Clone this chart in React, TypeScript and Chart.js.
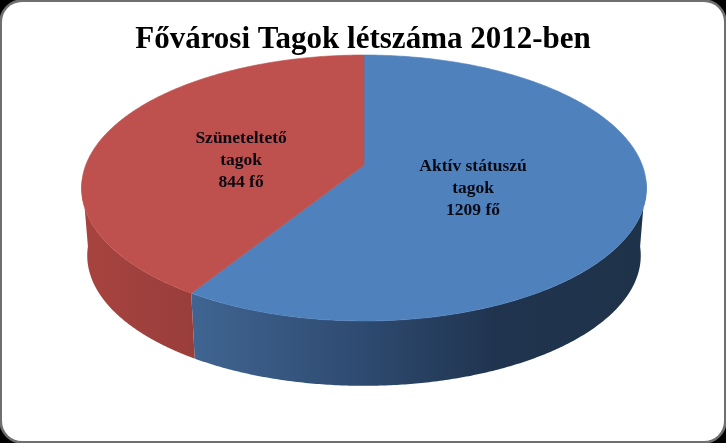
import React, { useEffect, useRef } from "react";
import { Chart, registerables } from "chart.js";

Chart.register(...registerables);

const titleText = "Fővárosi Tagok létszáma 2012-ben";
const categories = ["Aktív státuszú tagok", "Szüneteltető tagok"];
const members = [1209, 844];
const labelLines = [
  ["Aktív státuszú", "tagok", "1209 fő"],
  ["Szüneteltető", "tagok", "844 fő"],
];
const labelRadius = [0.4, 0.47];
const labelShift = [8.5, 12];
const topColors = ["#4F81BD", "#BE504D"];
const wallStops = [
  [[0, "#406592"], [0.385, "#2E4A70"], [0.68, "#20344F"], [1, "#1E3249"]],
  [[0, "#A8433F"], [0.6, "#9E403D"], [1, "#9A3E3B"]],
];

// Perspective view of the pie: unit circle (u, v) to screen
const K = 0.1729;
const CX = 364;
const topFace = { a: 278.2, b: 129, y0: 165 };
const bottomFace = { a: 272.6, b: 126.4, y0: 233 };
// Only the front of the wall shows: between these two clockwise-from-top angles
const WALL_FROM = (96 * Math.PI) / 180;
const WALL_TO = (264 * Math.PI) / 180;
const project = (f: typeof topFace, ang: number, r = 1) => {
  const u = Math.sin(ang) * r;
  const v = -Math.cos(ang) * r;
  const w = 1 - K * v;
  return { x: CX + (f.a * u) / w, y: f.y0 + (f.b * v) / w };
};

const pie3d = {
  id: "pie3d",
  beforeDraw(chart: any) {
    const { ctx, width, height } = chart;
    ctx.save();
    ctx.fillStyle = "#000";
    ctx.fillRect(0, 0, width, height);
    ctx.filter = "blur(0.7px)";
    ctx.beginPath();
    ctx.roundRect(-1, -1, width + 2, height + 2, 24);
    ctx.fillStyle = "#6f6f6f";
    ctx.fill();
    ctx.beginPath();
    ctx.roundRect(2, 2, width - 4, height - 4, 20);
    ctx.fillStyle = "#ffffff";
    ctx.fill();
    ctx.restore();
  },
  beforeDatasetsDraw(chart: any) {
    const { ctx } = chart;
    const arcs = chart.getDatasetMeta(0).data;
    const offset = Math.PI / 2; // Chart.js angle 0 is at 3 o'clock
    const sweep = (fn: (a: number) => void, s: number, e: number) => {
      const n = 240;
      for (let i = 0; i <= n; i++) fn(s + ((e - s) * i) / n);
    };
    ctx.save();
    // side walls first
    arcs.forEach((arc: any, i: number) => {
      const s = Math.max(arc.startAngle + offset, WALL_FROM);
      const e = Math.min(arc.endAngle + offset, WALL_TO);
      const x0 = i === 0 ? 190 : 84;
      const x1 = i === 0 ? 640 : 196;
      const g = ctx.createLinearGradient(x0, 0, x1, 0);
      wallStops[i].forEach(([p, c]: any) => g.addColorStop(p, c));
      ctx.beginPath();
      sweep((a) => {
        const p = project(topFace, a);
        ctx.lineTo(p.x, p.y);
      }, s, e);
      sweep((a) => {
        const p = project(bottomFace, a);
        ctx.lineTo(p.x, p.y);
      }, e, s);
      ctx.closePath();
      ctx.fillStyle = g;
      ctx.fill();
    });
    // top faces
    arcs.forEach((arc: any) => {
      const s = arc.startAngle + offset;
      const e = arc.endAngle + offset;
      ctx.beginPath();
      ctx.moveTo(CX, topFace.y0);
      sweep((a) => {
        const p = project(topFace, a);
        ctx.lineTo(p.x, p.y);
      }, s, e);
      ctx.closePath();
      ctx.fillStyle = arc.options.backgroundColor;
      ctx.strokeStyle = arc.options.backgroundColor;
      ctx.lineWidth = 0.6;
      ctx.fill();
      ctx.stroke();
    });
    // slice labels
    ctx.font = "bold 17.5px 'Liberation Serif'";
    ctx.textAlign = "center";
    ctx.textBaseline = "middle";
    ctx.fillStyle = "#0a0a14";
    arcs.forEach((arc: any, i: number) => {
      const mid = (arc.startAngle + arc.endAngle) / 2 + offset;
      const c = project(topFace, mid, labelRadius[i]);
      labelLines[i].forEach((line, j) => {
        ctx.fillText(line, c.x, c.y + labelShift[i] + (j - 1) * 22);
      });
    });
    ctx.restore();
    return false;
  },
};

export default function App() {
  const ref = useRef<HTMLCanvasElement>(null);
  useEffect(() => {
    document.body.style.margin = "0";
    const chart = new Chart(ref.current!, {
      type: "pie",
      data: {
        labels: categories,
        datasets: [{ data: members, backgroundColor: topColors, borderWidth: 0 }],
      },
      options: {
        responsive: false,
        animation: false,
        devicePixelRatio: 1,
        layout: { padding: 0 },
        plugins: {
          legend: { display: false },
          tooltip: { enabled: false },
          title: {
            display: true,
            text: titleText,
            color: "#000",
            font: { family: "'Liberation Serif'", size: 31, weight: "bold" },
            padding: { top: 21, bottom: 10 },
          },
        },
      },
      plugins: [pie3d],
    } as any);
    return () => chart.destroy();
  }, []);
  return (
    <div style={{ width: 726, height: 443 }}>
      <canvas ref={ref} width={726} height={443} style={{ display: "block" }} />
    </div>
  );
}
